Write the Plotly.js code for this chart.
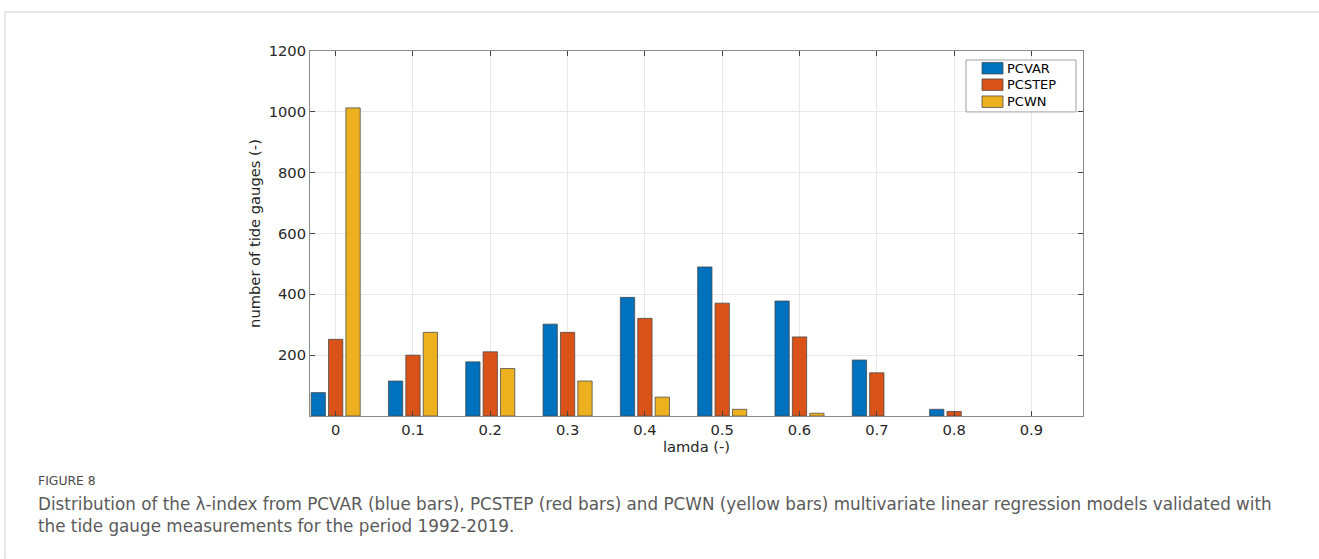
<!DOCTYPE html>
<html>
<head>
<meta charset="utf-8">
<script src="https://cdn.plot.ly/plotly-3.0.1.min.js"></script>
<style>
html,body{margin:0;padding:0;background:#fff;}
#chart{width:1319px;height:559px;}
</style>
</head>
<body>
<div id="chart"></div>
<script>
const lamda = [0, 0.1, 0.2, 0.3, 0.4, 0.5, 0.6, 0.7, 0.8, 0.9];
const tickLabels = ["0", "0.1", "0.2", "0.3", "0.4", "0.5", "0.6", "0.7", "0.8", "0.9"];
const pcvar  = [77, 115, 178, 302, 390, 490, 378, 184, 22, 0];
const pcstep = [252, 200, 211, 275, 321, 371, 260, 142, 15, 0];
const pcwn   = [1013, 275, 156, 115, 62, 22, 9, 0, 0, 0];
const yTicks = [200, 400, 600, 800, 1000, 1200];
const seriesNames = ['PCVAR', 'PCSTEP', 'PCWN'];
const seriesColors = ['#0072BD', '#D95319', '#EDB120'];
const seriesValues = [pcvar, pcstep, pcwn];

const traces = seriesValues.map((vals, i) => ({
  type: 'bar', name: seriesNames[i], x: lamda, y: vals,
  marker: {color: seriesColors[i], line: {color: 'rgba(70,70,70,0.75)', width: vals.map(v => v > 0 ? 1 : 0)}}
}));

const L = 310, R = 1083, T = 50.5, B = 416;
const W = R - L, H = B - T;
const px = x => (x - L) / W;
const py = y => 1 - (y - T) / H;

const shapes = [
  {type: 'line', xref: 'paper', yref: 'paper', x0: px(5), x1: px(1319), y0: py(11.5), y1: py(11.5), line: {color: '#cfcfcf', width: 1}},
  {type: 'line', xref: 'paper', yref: 'paper', x0: px(5), x1: px(5), y0: py(11.5), y1: py(559), line: {color: '#cfcfcf', width: 1}},
  {type: 'rect', xref: 'paper', yref: 'paper', x0: px(966), x1: px(1076), y0: py(59.5), y1: py(111.5), fillcolor: '#fff', line: {color: '#a0a0a0', width: 1}}
];
const capFont = 'DejaVu Sans, sans-serif';
const annotations = [
  {xref: 'paper', yref: 'paper', x: px(36), y: py(480.5), xanchor: 'left', yanchor: 'middle', showarrow: false,
   text: 'FIGURE 8', font: {family: capFont, size: 12.4, color: '#4a4a4a'}},
  {xref: 'paper', yref: 'paper', x: px(36), y: py(504.5), xanchor: 'left', yanchor: 'middle', showarrow: false,
   text: 'Distribution of the λ-index from PCVAR (blue bars), PCSTEP (red bars) and PCWN (yellow bars) multivariate linear regression models validated with',
   font: {family: capFont, size: 16.8, color: '#5a5a5a'}},
  {xref: 'paper', yref: 'paper', x: px(36), y: py(526.5), xanchor: 'left', yanchor: 'middle', showarrow: false,
   text: 'the tide gauge measurements for the period 1992-2019.',
   font: {family: capFont, size: 16.8, color: '#5a5a5a'}}
];
const rowY = [[62, 73.5], [78.5, 90], [95.5, 107]];
seriesNames.forEach((n, i) => {
  shapes.push({type: 'rect', xref: 'paper', yref: 'paper', x0: px(982), x1: px(1003), y0: py(rowY[i][0]), y1: py(rowY[i][1]),
    fillcolor: seriesColors[i], line: {color: 'rgba(70,70,70,0.75)', width: 1}});
  annotations.push({xref: 'paper', yref: 'paper', x: px(1005), y: py((rowY[i][0] + rowY[i][1]) / 2), xanchor: 'left', yanchor: 'middle',
    showarrow: false, text: n, font: {family: 'DejaVu Sans, sans-serif', size: 13, color: '#000'}});
});

const layout = {
  width: 1319, height: 559,
  margin: {l: L, r: 1319 - R, t: T, b: 559 - B, pad: 0},
  paper_bgcolor: '#fff', plot_bgcolor: '#fff',
  barmode: 'group', bargap: 0.325, bargroupgap: 0.178,
  font: {family: 'DejaVu Sans, sans-serif', size: 14.7, color: '#262626'},
  showlegend: false,
  xaxis: {
    range: [-0.0332, 0.9667],
    tickvals: lamda, ticktext: tickLabels,
    ticks: 'inside', ticklen: 5, tickcolor: '#444', tickwidth: 1,
    showline: true, linecolor: '#8a8a8a', linewidth: 1, mirror: 'ticks',
    showgrid: true, gridcolor: '#e8e8e8', zeroline: false,
    tickfont: {size: 14.7, color: '#262626'},
    title: {text: 'lamda (-)', font: {size: 14.7, color: '#262626'}, standoff: 4}
  },
  yaxis: {
    range: [0, 1200],
    tickvals: yTicks,
    ticks: 'inside', ticklen: 5, tickcolor: '#444', tickwidth: 1,
    showline: true, linecolor: '#8a8a8a', linewidth: 1, mirror: 'ticks',
    showgrid: true, gridcolor: '#e8e8e8', zeroline: false,
    tickfont: {size: 14.7, color: '#262626'},
    title: {text: 'number of tide gauges (-)', font: {size: 14.7, color: '#262626'}, standoff: 4}
  },
  shapes: shapes,
  annotations: annotations
};

Plotly.newPlot('chart', traces, layout, {staticPlot: true, displayModeBar: false});
</script>
</body>
</html>
